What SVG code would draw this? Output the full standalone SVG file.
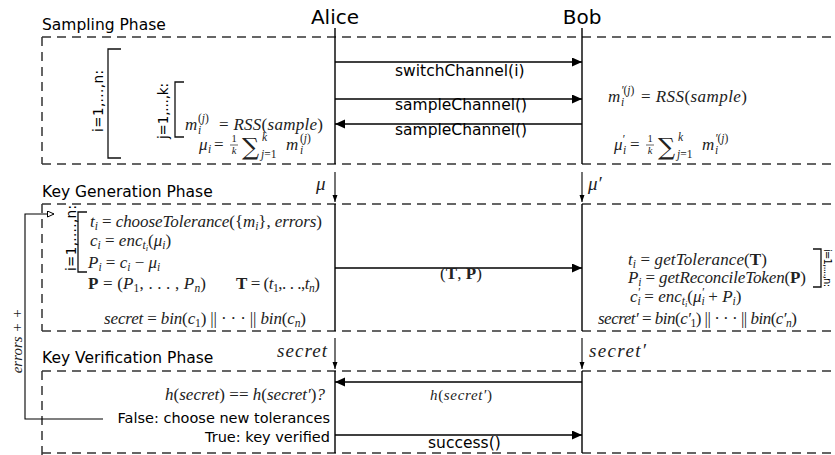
<svg xmlns="http://www.w3.org/2000/svg" width="835" height="455" viewBox="0 0 835 455">
<style>
.box{fill:none;stroke:#333;stroke-width:1.5;stroke-dasharray:9 6}
.life{stroke:#000;stroke-width:1.4;fill:none}
.msg{stroke:#000;stroke-width:1.4;fill:none}
.thin{stroke:#000;stroke-width:1.1;fill:none}
.brk{stroke:#111;stroke-width:1.3;fill:none}
.sans{font-family:"DejaVu Sans",sans-serif;fill:#000}
.lbl{font-size:15.5px}
.lbl2{font-size:14.5px}
.actor{font-size:20px}
.rot{font-size:13.5px}
.m{font-family:"Liberation Serif",serif;font-style:italic;font-size:17px;fill:#222}
.u{font-style:normal}
.b{font-style:normal;font-weight:bold}
.s{font-size:11.5px}
.ss{font-size:8.5px}
.fr{font-size:10.5px}
.sum{font-family:"DejaVu Serif",serif;font-style:normal;font-size:24px}
</style>
<defs>
<marker id="ah" markerUnits="userSpaceOnUse" markerWidth="11" markerHeight="10" refX="10" refY="4.5" orient="auto"><path d="M0,0 L10,4.5 L0,9 z" fill="#000"/></marker>
<marker id="sh" markerUnits="userSpaceOnUse" markerWidth="8" markerHeight="6" refX="7" refY="2.5" orient="auto"><path d="M0,0 L7,2.5 L0,5 z" fill="#000"/></marker>
<marker id="oh" markerUnits="userSpaceOnUse" markerWidth="9" markerHeight="8" refX="7" refY="3.5" orient="auto"><path d="M0.5,0.5 L7,3.5 L0.5,6.5 z" fill="#fff" stroke="#000" stroke-width="1"/></marker>
</defs>
<rect width="835" height="455" fill="#fff"/>

<!-- phase boxes -->
<g id="sampling-phase">
<text class="sans lbl" x="42" y="30">Sampling Phase</text>
<path class="box" d="M42,37 H835 M42,37 V164 M42,164 H835"/>
</g>
<g id="keygen-phase">
<text class="sans lbl" x="42" y="197">Key Generation Phase</text>
<path class="box" d="M42,204 H835 M42,204 V331 M42,331 H835"/>
</g>
<g id="verify-phase">
<text class="sans lbl" x="42" y="363">Key Verification Phase</text>
<path class="box" d="M42,371 H835 M42,371 V455 M42,453 H835"/>
</g>

<!-- actors -->
<g id="alice">
<text class="sans actor" x="335" y="24" text-anchor="middle">Alice</text>
<path class="life" d="M335,28 V164 M335,204 V331 M335,371 V453"/>
</g>
<g id="bob">
<text class="sans actor" x="582" y="24" text-anchor="middle">Bob</text>
<path class="life" d="M582,28 V164 M582,204 V331 M582,371 V453"/>
</g>

<!-- Sampling: Alice side -->
<g id="alice-sampling">
<path class="brk" d="M121,49 H108 V158 H121"/>
<text class="sans rot" transform="translate(103,101) rotate(-90)" text-anchor="middle" textLength="62">i=1,...,n:</text>
<path class="brk" d="M184,82 H175 V137 H184"/>
<text class="sans rot" transform="translate(168,111) rotate(-90)" text-anchor="middle" textLength="56">j=1,...,k:</text>
<text class="m" x="185" y="130">m</text>
<text class="m s" x="198" y="122"><tspan class="u">(</tspan>j<tspan class="u">)</tspan></text>
<text class="m s" x="198" y="134">i</text>
<text class="m" x="219" y="130" textLength="104"><tspan class="u">=</tspan> RSS<tspan class="u">(</tspan>sample<tspan class="u">)</tspan></text>
<text class="m" x="199" y="150">μ</text>
<text class="m s" x="208" y="153">i</text>
<text class="m u" x="214" y="150">=</text>
<text class="m fr u" x="234" y="142" text-anchor="middle">1</text>
<line x1="230" y1="145" x2="238" y2="145" stroke="#222" stroke-width="0.7"/>
<text class="m fr" x="234" y="154" text-anchor="middle">k</text>
<text class="m sum" x="242" y="155">∑</text>
<text class="m s" x="262" y="141">k</text>
<text class="m s" x="261" y="158">j<tspan class="u">=1</tspan></text>
<text class="m" x="286" y="150">m</text>
<text class="m s" x="300" y="142"><tspan class="u">(</tspan>j<tspan class="u">)</tspan></text>
<text class="m s" x="300" y="154">i</text>
</g>

<!-- Sampling: Bob side -->
<g id="bob-sampling">
<text class="m" x="608" y="102">m</text>
<text class="m s" x="621" y="94">′<tspan class="u">(</tspan>j<tspan class="u">)</tspan></text>
<text class="m s" x="621" y="106">i</text>
<text class="m" x="641" y="102" textLength="106"><tspan class="u">=</tspan> RSS<tspan class="u">(</tspan>sample<tspan class="u">)</tspan></text>
<text class="m" x="614" y="150">μ</text>
<text class="m s" x="622" y="143">′</text>
<text class="m s" x="623" y="154">i</text>
<text class="m u" x="630" y="150">=</text>
<text class="m fr u" x="650" y="142" text-anchor="middle">1</text>
<line x1="646" y1="145" x2="654" y2="145" stroke="#222" stroke-width="0.7"/>
<text class="m fr" x="650" y="154" text-anchor="middle">k</text>
<text class="m sum" x="658" y="155">∑</text>
<text class="m s" x="678" y="141">k</text>
<text class="m s" x="677" y="158">j<tspan class="u">=1</tspan></text>
<text class="m" x="702" y="150">m</text>
<text class="m s" x="715" y="142">′<tspan class="u">(</tspan>j<tspan class="u">)</tspan></text>
<text class="m s" x="715" y="154">i</text>
</g>

<!-- Key generation: Alice -->
<g id="alice-keygen">
<path class="brk" d="M87,212 H78 V272 H87"/>
<text class="sans rot" transform="translate(76,238) rotate(-90)" text-anchor="middle" textLength="66">i=1,....,n:</text>
<text class="m" x="90" y="227" textLength="232">t<tspan class="s" dy="3">i</tspan><tspan dy="-3"> <tspan class="u">=</tspan> chooseTolerance<tspan class="u">({</tspan>m<tspan class="s" dy="3">i</tspan><tspan class="u" dy="-3">},</tspan> errors<tspan class="u">)</tspan></tspan></text>
<text class="m" x="90" y="246">c<tspan class="s" dy="3">i</tspan><tspan dy="-3"> <tspan class="u">=</tspan> enc</tspan><tspan class="s" dy="3">t</tspan><tspan class="ss" dy="2">i</tspan><tspan class="u" dy="-5">(</tspan>μ<tspan class="s" dy="3">i</tspan><tspan class="u" dy="-3">)</tspan></text>
<text class="m" x="88" y="268">P<tspan class="s" dy="3">i</tspan><tspan dy="-3"> <tspan class="u">=</tspan> c</tspan><tspan class="s" dy="3">i</tspan><tspan class="u" dy="-3"> − </tspan>μ<tspan class="s" dy="3">i</tspan></text>
<text class="m" x="88" y="289" textLength="118"><tspan class="b">P</tspan><tspan class="u"> = (</tspan>P<tspan class="s u" dy="3">1</tspan><tspan class="u" dy="-3">, . . . , </tspan>P<tspan class="s" dy="3">n</tspan><tspan class="u" dy="-3">)</tspan></text>
<text class="m" x="236" y="289" textLength="84"><tspan class="b">T</tspan><tspan class="u"> = (</tspan>t<tspan class="s u" dy="3">1</tspan><tspan class="u" dy="-3">,. . .,</tspan>t<tspan class="s" dy="3">n</tspan><tspan class="u" dy="-3">)</tspan></text>
<text class="m" x="104" y="324" textLength="202">secret <tspan class="u">=</tspan> bin<tspan class="u">(</tspan>c<tspan class="s u" dy="3">1</tspan><tspan class="u" dy="-3">) || · · · || </tspan>bin<tspan class="u">(</tspan>c<tspan class="s" dy="3">n</tspan><tspan class="u" dy="-3">)</tspan></text>
</g>

<!-- Key generation: Bob -->
<g id="bob-keygen">
<text class="m" x="628" y="265" textLength="139">t<tspan class="s" dy="3">i</tspan><tspan dy="-3"> <tspan class="u">=</tspan> getTolerance<tspan class="u">(</tspan><tspan class="b">T</tspan><tspan class="u">)</tspan></tspan></text>
<text class="m" x="628" y="283" textLength="178">P<tspan class="s" dy="3">i</tspan><tspan dy="-3"> <tspan class="u">=</tspan> getReconcileToken<tspan class="u">(</tspan><tspan class="b">P</tspan><tspan class="u">)</tspan></tspan></text>
<text class="m" x="630" y="302">c<tspan class="s" dy="3">i</tspan><tspan class="s" dx="-3.2" dy="-9">′</tspan><tspan dy="6"> <tspan class="u">=</tspan> enc</tspan><tspan class="s" dy="3">t</tspan><tspan class="ss" dy="2">i</tspan><tspan class="u" dy="-5">(</tspan>μ<tspan class="s" dy="3">i</tspan><tspan class="s" dx="-3.2" dy="-9">′</tspan><tspan class="u" dy="6"> + </tspan>P<tspan class="s" dy="3">i</tspan><tspan class="u" dy="-3">)</tspan></text>
<text class="m" x="598" y="324" textLength="199">secret′ <tspan class="u">=</tspan> bin<tspan class="u">(</tspan>c′<tspan class="s u" dy="3">1</tspan><tspan class="u" dy="-3">) || · · · || </tspan>bin<tspan class="u">(</tspan>c′<tspan class="s" dy="3">n</tspan><tspan class="u" dy="-3">)</tspan></text>
<path class="brk" d="M813,249 H821 V287 H813"/>
<text class="sans" style="font-size:10px" transform="translate(824,268) rotate(90)" text-anchor="middle" textLength="38">i=1,....,n:</text>
</g>

<!-- Key verification: Alice -->
<g id="alice-verify">
<text class="m" x="165" y="400" textLength="160">h<tspan class="u">(</tspan>secret<tspan class="u">) == </tspan>h<tspan class="u">(</tspan>secret′<tspan class="u">)</tspan>?</text>
<text class="sans lbl2" x="330" y="423" text-anchor="end">False: choose new tolerances</text>
<text class="sans lbl2" x="330" y="442" text-anchor="end">True: key verified</text>
</g>

<!-- connectors -->
<g id="connectors">
<path class="msg" d="M335,62 H582" marker-end="url(#ah)"/>
<path class="msg" d="M335,99 H582" marker-end="url(#ah)"/>
<path class="msg" d="M582,124 H335" marker-end="url(#ah)"/>
<path class="thin" d="M335,172 V202" marker-end="url(#sh)"/>
<path class="thin" d="M582,172 V202" marker-end="url(#sh)"/>
<path class="msg" d="M335,268 H582" marker-end="url(#ah)"/>
<path class="thin" d="M335,338 V369" marker-end="url(#sh)"/>
<path class="thin" d="M582,338 V369" marker-end="url(#sh)"/>
<path class="msg" d="M582,382 H335" marker-end="url(#ah)"/>
<path class="msg" d="M335,435 H582" marker-end="url(#ah)"/>
<path class="thin" d="M103,419 H25 V214 H54" marker-end="url(#oh)"/>
<text class="sans lbl" x="395" y="76">switchChannel(i)</text>
<text class="sans lbl" x="395" y="110">sampleChannel()</text>
<text class="sans lbl" x="395" y="135">sampleChannel()</text>
<text class="m" x="316" y="190" style="font-size:19px">μ</text>
<text class="m" x="588" y="190" style="font-size:19px">μ′</text>
<text class="m u" x="440" y="279" textLength="42"><tspan>(</tspan><tspan class="b">T</tspan>, <tspan class="b">P</tspan>)</text>
<text class="m" x="277" y="357" style="font-size:19px" textLength="50">secret</text>
<text class="m" x="589" y="357" style="font-size:19px" textLength="57">secret′</text>
<text class="m" x="430" y="400" style="font-size:15px" textLength="62">h<tspan class="u">(</tspan>secret′<tspan class="u">)</tspan></text>
<text class="sans lbl" x="428" y="448">success()</text>
<text class="m" transform="translate(22,341) rotate(-90)" text-anchor="middle" style="font-size:15px">errors + +</text>
</g>
</svg>
